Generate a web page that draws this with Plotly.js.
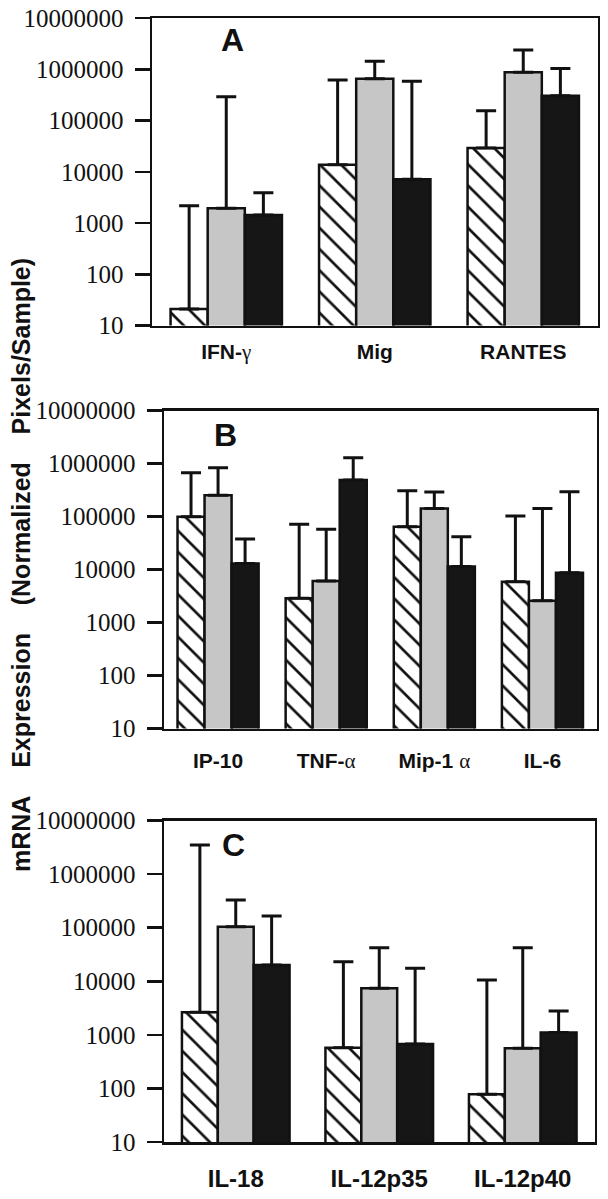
<!DOCTYPE html>
<html><head><meta charset="utf-8">
<script src="https://cdn.plot.ly/plotly-3.0.1.min.js"></script>
<style>html,body{margin:0;padding:0;background:#fff;} #chart{width:608px;height:1199px;}</style>
</head><body><div id="chart"></div>
<script>
// ---- Panel A ----
const catsA = ['IFN-γ', 'Mig', 'RANTES'];
const hatchA = [21, 13700, 29000];
const hatchAUp = [2180, 617000, 155000];
const grayA = [1940, 655000, 871000];
const grayAUp = [291000, 1430000, 2380000];
const blackA = [1430, 7130, 305000];
const blackAUp = [3900, 582000, 1040000];

// ---- Panel B ----
const catsB = ['IP-10', 'TNF-α', 'Mip-1 α', 'IL-6'];
const hatchB = [99600, 2870, 64600, 5900];
const hatchBUp = [675000, 71600, 309000, 103000];
const grayB = [252000, 6100, 143000, 2590];
const grayBUp = [839000, 57500, 292000, 143000];
const blackB = [13100, 491000, 11400, 8730];
const blackBUp = [37800, 1300000, 41800, 295000];

// ---- Panel C ----
const catsC = ['IL-18', 'IL-12p35', 'IL-12p40'];
const hatchC = [2630, 576, 78];
const hatchCUp = [3490000, 23200, 10500];
const grayC = [104000, 7400, 561];
const grayCUp = [329000, 42400, 42400];
const blackC = [20100, 675, 1100];
const blackCUp = [165000, 17500, 2790];

const yTickVals = [10, 100, 1000, 10000, 100000, 1000000, 10000000];
const yTickText = ['10', '100', '1000', '10000', '100000', '1000000', '10000000'];
const panelLetters = ['A', 'B', 'C'];
const yTitle = 'mRNA\u00a0\u00a0\u00a0 Expression\u00a0\u00a0\u00a0 (Normalized\u00a0\u00a0\u00a0 Pixels/Sample)';

const INK = '#111111';
const W = 608, H = 1199;

function greek(label) {
  return label.replace(/([γα])/g, '<span style="font-family:Liberation Serif;font-weight:normal">$1</span>');
}

function errs(vals, ups) {
  return {
    type: 'data', symmetric: false,
    array: ups.map((u, i) => u - vals[i]),
    arrayminus: vals.map(() => 0),
    color: INK, thickness: 3, width: 10
  };
}

const styles = {
  hatch: {color: '#ffffff', pattern: {shape: '\\', fgcolor: INK, bgcolor: '#ffffff', size: 15, solidity: 0.18}, line: {color: INK, width: 2.5}},
  gray: {color: '#c6c6c6', line: {color: INK, width: 2.5}},
  black: {color: '#161616', line: {color: INK, width: 2.5}}
};

function panel(cats, h, hu, g, gu, b, bu, xa, ya) {
  return [
    {type: 'bar', x: cats, y: h, error_y: errs(h, hu), marker: styles.hatch, xaxis: xa, yaxis: ya, showlegend: false, hoverinfo: 'skip'},
    {type: 'bar', x: cats, y: g, error_y: errs(g, gu), marker: styles.gray, xaxis: xa, yaxis: ya, showlegend: false, hoverinfo: 'skip'},
    {type: 'bar', x: cats, y: b, error_y: errs(b, bu), marker: styles.black, xaxis: xa, yaxis: ya, showlegend: false, hoverinfo: 'skip'}
  ];
}

const data = [].concat(
  panel(catsA, hatchA, hatchAUp, grayA, grayAUp, blackA, blackAUp, 'x', 'y'),
  panel(catsB, hatchB, hatchBUp, grayB, grayBUp, blackB, blackBUp, 'x2', 'y2'),
  panel(catsC, hatchC, hatchCUp, grayC, grayCUp, blackC, blackCUp, 'x3', 'y3')
);

function xAxis(cats, px0, px1, anchor, fsize, standoff) {
  return {
    domain: [px0 / W, px1 / W], anchor: anchor, type: 'category',
    range: [-0.5, cats.length - 0.5],
    tickvals: cats, ticktext: cats.map(greek),
    ticks: '', ticklabelstandoff: standoff,
    tickfont: {family: 'Liberation Sans, Arial, sans-serif', size: fsize, color: INK, weight: 'bold'},
    showline: true, mirror: true, linewidth: 2.5, linecolor: INK,
    showgrid: false, zeroline: false, fixedrange: true
  };
}
function yAxis(pyTop, pyBot, anchor) {
  return {
    domain: [1 - pyBot / H, 1 - pyTop / H], anchor: anchor, type: 'log', range: [1, 7],
    tickvals: yTickVals, ticktext: yTickText,
    ticks: 'outside', ticklen: 15, tickwidth: 2.5, tickcolor: INK, ticklabelstandoff: 6,
    tickfont: {family: 'Liberation Serif, Times New Roman, serif', size: 25, color: INK},
    showline: true, mirror: true, linewidth: 2.5, linecolor: INK,
    showgrid: false, zeroline: false, fixedrange: true
  };
}

const letterFont = {family: 'Liberation Sans, Arial, sans-serif', size: 32, color: INK, weight: 'bold'};
function letter(i, px, py) {
  return {text: panelLetters[i], xref: 'paper', yref: 'paper', x: px / W, y: 1 - py / H,
          xanchor: 'center', yanchor: 'middle', showarrow: false, font: letterFont};
}
const layout = {
  width: W, height: H,
  margin: {l: 0, r: 0, t: 0, b: 0},
  paper_bgcolor: '#ffffff', plot_bgcolor: '#ffffff',
  barmode: 'group', bargap: 0.25, bargroupgap: 0,
  showlegend: false,
  xaxis: xAxis(catsA, 152, 597.5, 'y', 21, 6),
  yaxis: yAxis(18, 325.5, 'x'),
  xaxis2: xAxis(catsB, 164, 596.5, 'y2', 21, 12),
  yaxis2: yAxis(410.7, 728.5, 'x2'),
  xaxis3: xAxis(catsC, 164, 594.5, 'y3', 24, 14),
  yaxis3: yAxis(820.5, 1142, 'x3'),
  annotations: [
    letter(0, 232, 40),
    letter(1, 225, 435),
    letter(2, 233, 845),
    {text: yTitle, xref: 'paper', yref: 'paper', x: 21 / W, y: 1 - 565 / H, xanchor: 'center', yanchor: 'middle',
     textangle: -90, showarrow: false,
     font: {family: 'Liberation Sans, Arial, sans-serif', size: 25, color: INK, weight: 'bold'}}
  ]
};

Plotly.newPlot('chart', data, layout, {staticPlot: true, displayModeBar: false});
</script>
</body></html>
